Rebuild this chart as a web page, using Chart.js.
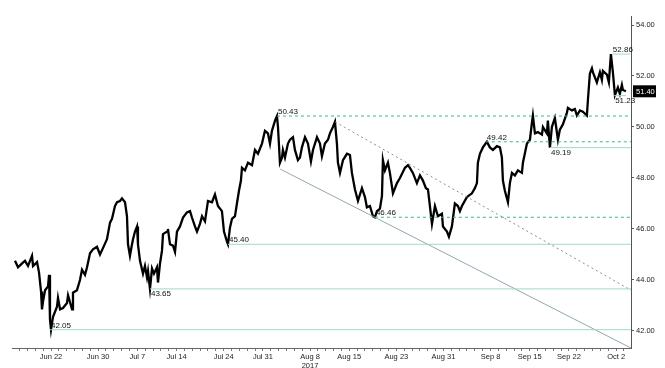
<!DOCTYPE html>
<html>
<head>
<meta charset="utf-8">
<script src="https://cdn.jsdelivr.net/npm/chart.js@4"></script>
<style>
  body { margin: 0; background: #fff; }
  #wrap { width: 665px; height: 368px; position: relative; }
</style>
</head>
<body>
<div id="wrap"><canvas id="myChart"></canvas></div>
<script>
'use strict';

// x values are trading days counted from Jun 22 2017 (= 0)
let days = [-4.59, -4.20, -3.69, -3.31, -2.93, -2.42, -2.29, -1.78, -1.53, -1.27, -1.15, -1.02, -0.76, -0.38, -0.25, -0.13, 0,
  0.25, 0.76, 0.89, 1.15, 1.53, 2.04, 2.17, 2.68, 2.80, 3.31, 3.69, 3.95, 4.33, 4.59, 4.97, 5.35, 5.86, 6.24, 6.62, 7.13,
  7.52, 7.77, 8.15, 8.41, 8.79, 9.04, 9.43, 9.68, 9.81, 10.06, 10.32, 10.45, 10.70, 10.96, 11.08, 11.34, 11.72, 11.97,
  12.23, 12.36, 12.61, 12.87, 13.12, 13.50, 13.63, 13.89, 14.14, 14.27, 14.78, 14.90, 15.16, 15.54, 15.80, 16.05, 16.43,
  16.82, 17.32, 17.71, 17.96, 18.34, 18.60, 18.98, 19.24, 19.62, 20.00, 20.51, 20.89, 21.27, 21.78, 22.04, 22.42, 22.55,
  22.80, 23.06, 23.44, 23.69, 23.95, 24.20, 24.33, 24.71, 25.10, 25.61, 25.99, 26.37, 26.88, 27.26, 27.64, 27.90, 28.15,
  28.54, 28.79, 28.92, 29.17, 29.43, 29.55, 29.81, 30.19, 30.45, 30.83, 31.08, 31.46, 31.72, 31.97, 32.36, 32.74, 33.12,
  33.38, 33.89, 34.27, 34.52, 34.90, 35.29, 35.54, 35.92, 36.18, 36.43, 36.56, 36.82, 37.20, 37.71, 38.09, 38.34, 38.73,
  39.11, 39.62, 40.00, 40.25, 40.64, 41.02, 41.27, 41.53, 41.91, 42.17, 42.29, 42.55, 42.93, 43.18, 43.57, 44.08, 44.46,
  45.10, 45.48, 45.73, 46.11, 46.62, 47.01, 47.39, 47.77, 48.03, 48.28, 48.54, 48.92, 49.30, 49.81, 49.94, 50.45, 50.70,
  51.08, 51.46, 51.85, 52.10, 52.36, 52.99, 53.63, 54.01, 54.27, 54.39, 54.65, 55.03, 55.54, 55.92, 56.31, 56.82, 57.20,
  57.45, 57.58, 57.83, 58.22, 58.47, 58.73, 59.11, 59.49, 60.00, 60.13, 60.64, 61.02, 61.27, 61.40, 61.66, 62.04, 62.55,
  62.68, 63.18, 63.31, 63.57, 63.82, 64.20, 64.59, 64.84, 65.22, 65.73, 65.86, 66.37, 66.75, 67.01, 67.39, 67.77, 68.28,
  68.41, 68.66, 68.92, 69.04, 69.55, 69.94, 70.19, 70.32, 70.83, 71.08, 71.34, 71.59, 71.85, 72.23, 72.48, 72.74, 72.87, 73.25];

let prices = [44.75, 44.5, 44.65, 44.75, 44.55, 44.95, 44.55, 44.7, 44.3, 43.55, 42.85, 43.15, 43.6, 43.75, 44.2, 42.45, 42.05,
  42.55, 42.95, 43.3, 42.85, 42.9, 43.1, 43.4, 42.85, 43.5, 43.6, 44.0, 44.4, 44.2, 44.5, 45.05, 45.2, 45.3, 45.0, 45.25, 45.6,
  46.25, 46.4, 46.9, 47.05, 47.1, 47.2, 47.05, 46.5, 45.4, 44.95, 45.4, 45.6, 45.9, 46.1, 45.4, 44.75, 44.25, 44.55,
  44.1, 44.35, 43.65, 44.45, 44.25, 44.5, 43.9, 44.65, 45.15, 45.8, 45.9, 46.0, 45.4, 45.35, 45.1, 45.9, 46.1,
  46.45, 46.65, 46.7, 46.45, 46.1, 45.9, 46.2, 46.5, 46.3, 47.1, 47.05, 47.35, 46.9, 46.7, 45.9, 45.5, 45.4,
  46.05, 46.4, 46.5, 47.0, 47.5, 47.9, 48.4, 48.3, 48.6, 48.5, 49.1, 48.95, 49.35, 49.85, 49.75, 49.35, 49.85,
  50.25, 50.43, 50.0, 48.6, 48.8, 49.1, 48.8, 49.35, 49.5, 49.6, 49.1, 48.7, 48.8, 49.2, 49.6, 49.35, 48.65,
  49.1, 49.6, 49.35, 48.85, 49.35, 49.5, 49.75, 50.0, 50.2, 49.35, 48.6, 48.2, 48.7, 48.95, 48.9, 48.2, 47.55,
  47.1, 47.6, 47.25, 46.85, 46.9, 46.5, 46.46, 46.7, 46.8, 47.3, 48.7, 48.3, 48.6, 48.2, 47.4, 47.8, 48.0,
  48.4, 48.5, 48.4, 48.2, 47.8, 48.1, 47.9, 47.6, 47.55, 46.9, 46.2, 46.9, 46.5, 46.6, 46.1, 45.9, 45.7,
  46.1, 47.0, 46.9, 46.7, 46.9, 47.25, 47.4, 47.6, 47.8, 48.6, 48.95, 49.2, 49.42, 49.2, 49.1, 49.25, 49.2,
  48.8, 47.9, 47.5, 47.05, 47.8, 48.2, 48.1, 48.3, 48.2, 48.6, 49.35, 49.5, 50.15, 50.45, 49.75, 49.8, 49.7,
  50.0, 49.75, 50.25, 49.19, 50.0, 50.35, 49.5, 49.9, 50.1, 50.55, 50.75, 50.65, 50.7, 50.45, 50.65, 50.6, 50.45,
  51.05, 52.1, 52.3, 52.15, 51.75, 52.15, 51.85, 52.2, 52.05, 51.75, 52.86, 52.15, 51.25, 51.55, 51.3, 51.65, 51.45, 51.4];

// x-axis labels (trading day -> text)
let tickDays = [0, 6, 11, 16, 22, 27, 33, 38, 44, 50, 56, 61, 66, 72];
let tickLabels = ['Jun 22', 'Jun 30', 'Jul 7', 'Jul 14', 'Jul 24', 'Jul 31', ['Aug 8', '2017'], 'Aug 15', 'Aug 23', 'Aug 31',
  'Sep 8', 'Sep 15', 'Sep 22', 'Oct 2'];
let yTicks = [42, 44, 46, 48, 50, 52, 54];

// support / resistance levels
let levelValues = [42.05, 43.65, 45.40, 49.19, 52.86, 51.23, 50.43, 49.42, 46.46];
let levelStart = [-0.13, 12.61, 22.55, 63.57, 71.46, 71.75, 28.79, 55.40, 41.27];
let levelEnd = [73.9, 73.9, 73.9, 73.9, 73.8, 73.25, 73.9, 73.9, 73.9];
let levelDashed = [false, false, false, false, false, false, true, true, true];
let levelLabelBelow = [false, true, false, true, false, true, false, false, false];

// trend lines
let trendDays = [29.2, 73.9];
let trendValues = [48.35, 41.33];
let channelDays = [36.2, 73.9];
let channelValues = [50.2, 43.6];

let lastPrice = 51.40;

let xMin = -4.97, xMax = 73.9;
let yMin = 41.333, yMax = 54.353;

function pairs(xs, ys) {
  let out = [];
  for (let i = 0; i < xs.length; i++) out.push({ x: xs[i], y: ys[i] });
  return out;
}

let datasets = [];
for (let i = 0; i < levelValues.length; i++) {
  datasets.push({
    data: [{ x: levelStart[i], y: levelValues[i] }, { x: levelEnd[i], y: levelValues[i] }],
    borderColor: levelDashed[i] ? '#3fb58a' : '#9fdac4',
    borderWidth: 1,
    borderDash: levelDashed[i] ? [3, 3] : [],
    pointRadius: 0
  });
}
datasets.push({
  data: pairs(trendDays, trendValues),
  borderColor: '#93a7b0',
  borderWidth: 1,
  pointRadius: 0
});
datasets.push({
  data: pairs(channelDays, channelValues),
  borderColor: '#8c8c8c',
  borderWidth: 1,
  borderDash: [2, 3],
  pointRadius: 0
});
datasets.push({
  data: pairs(days, prices),
  borderColor: '#000',
  borderWidth: 2.3,
  pointRadius: 0,
  borderJoinStyle: 'miter'
});

const FONT = '8px "Liberation Sans", Arial, sans-serif';

let labelPlugin = {
  id: 'levelLabels',
  afterDraw(chart) {
    let ctx = chart.ctx;
    let xs = chart.scales.x, ys = chart.scales.y;
    ctx.save();
    ctx.font = FONT;
    ctx.fillStyle = '#111';
    ctx.textAlign = 'left';
    for (let i = 0; i < levelValues.length; i++) {
      let px = xs.getPixelForValue(levelStart[i]) + 1;
      let py = ys.getPixelForValue(levelValues[i]);
      if (levelLabelBelow[i]) {
        ctx.textBaseline = 'top';
        ctx.fillText(levelValues[i].toFixed(2), px, py + 1);
      } else {
        ctx.textBaseline = 'bottom';
        ctx.fillText(levelValues[i].toFixed(2), px, py);
      }
    }
    // last price tag on the axis
    let ly = ys.getPixelForValue(lastPrice);
    let lx = chart.chartArea.right + 2;
    ctx.font = '7.5px "Liberation Sans", Arial, sans-serif';
    ctx.fillStyle = '#000';
    ctx.fillRect(lx, ly - 6, 23, 12);
    ctx.fillStyle = '#fff';
    ctx.textBaseline = 'middle';
    ctx.fillText(lastPrice.toFixed(2), lx + 3, ly + 0.5);
    ctx.restore();
  }
};

let ctx = document.getElementById('myChart').getContext('2d');
let myChart = new Chart(ctx, {
  type: 'line',
  data: { datasets: datasets },
  plugins: [labelPlugin],
  options: {
    responsive: true,
    maintainAspectRatio: false,
    animation: false,
    layout: { padding: { left: 12, top: 16, right: 0, bottom: 0 } },
    plugins: { legend: { display: false }, tooltip: { enabled: false } },
    elements: { line: { tension: 0 } },
    scales: {
      x: {
        type: 'linear',
        min: xMin,
        max: xMax,
        afterBuildTicks(scale) {
          let t = [];
          for (let d = -4; d <= 73; d++) t.push({ value: d });
          scale.ticks = t;
        },
        afterFit(scale) { scale.height = 20; },
        ticks: {
          autoSkip: false,
          maxRotation: 0,
          padding: 1,
          color: '#222',
          font: { family: '"Liberation Sans", Arial, sans-serif', size: 7.5 },
          callback(value) {
            let k = tickDays.indexOf(value);
            return k >= 0 ? tickLabels[k] : '';
          }
        },
        grid: { drawOnChartArea: false, tickLength: 3, color: '#777' },
        border: { color: '#666' }
      },
      y: {
        position: 'right',
        min: yMin,
        max: yMax,
        afterBuildTicks(scale) {
          scale.ticks = yTicks.map(v => ({ value: v }));
        },
        afterFit(scale) { scale.width = 34; },
        ticks: {
          padding: 2,
          color: '#222',
          font: { family: '"Liberation Sans", Arial, sans-serif', size: 7.5 },
          callback(value) { return value.toFixed(2); }
        },
        grid: { drawOnChartArea: false, tickLength: 3, color: '#555' },
        border: { color: '#555' }
      }
    }
  }
});
</script>
</body>
</html>
